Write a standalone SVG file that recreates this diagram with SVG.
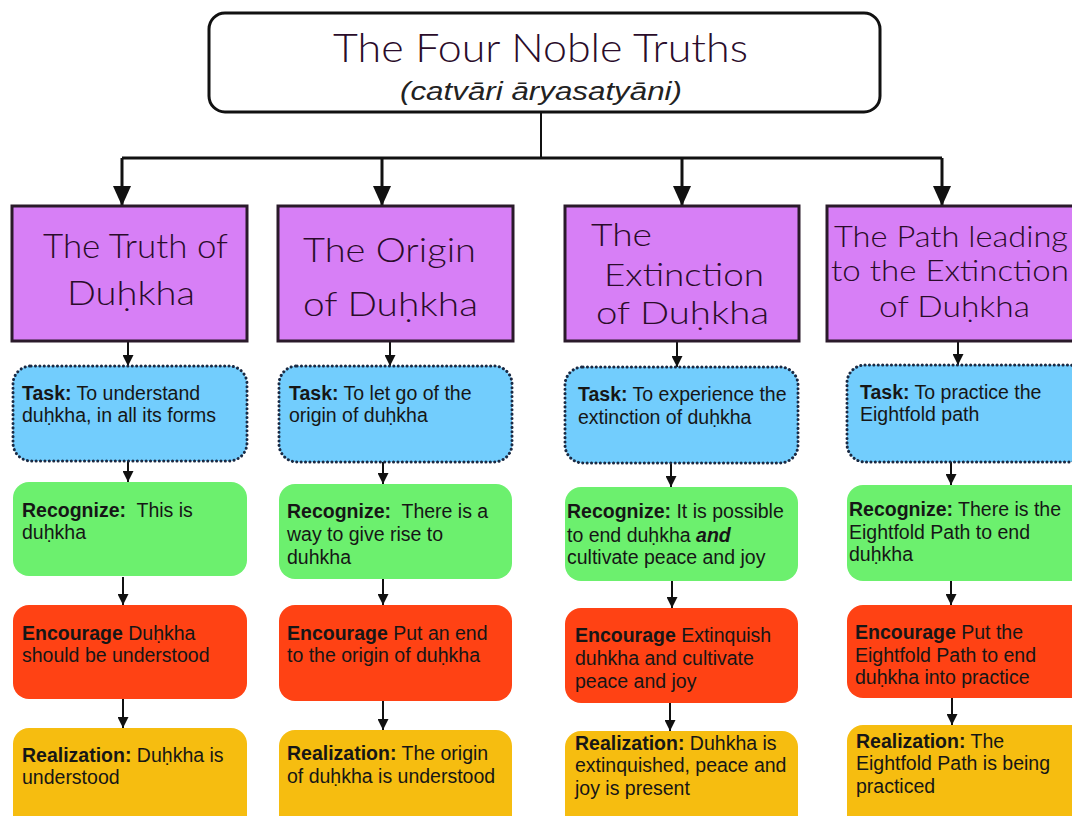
<svg xmlns="http://www.w3.org/2000/svg" width="1072" height="816" viewBox="0 0 1072 816">
<defs>
<style>
.t{font-family:"Liberation Sans",Arial,Helvetica,sans-serif;font-size:19.5px;fill:#161616}
.b{font-weight:bold}
.cal{font-family:"Lato","Open Sans","Noto Sans",sans-serif;font-weight:300;fill:#2a0c2a}
.title{fill:#fff;stroke:#111;stroke-width:3}
.purple{fill:#d77ff6;stroke:#2a1a2a;stroke-width:3}
.task{fill:#72cdfd;stroke:#1a2a44;stroke-width:3;stroke-dasharray:0.1 4.3;stroke-linecap:round}
.rec{fill:#6cf06e}
.enc{fill:#ff4214}
.real{fill:#f6bd10}
.big{fill:none;stroke:#111;stroke-width:3}
.sm{fill:none;stroke:#111;stroke-width:2}
</style>
<marker id="bh" markerUnits="userSpaceOnUse" markerWidth="20" markerHeight="20" refX="20" refY="9" orient="auto" viewBox="0 0 20 18">
<path d="M0,0 L20,9 L0,18 z" fill="#111"/>
</marker>
<marker id="sh" markerUnits="userSpaceOnUse" markerWidth="11" markerHeight="11" refX="11" refY="5.5" orient="auto" viewBox="0 0 11 11">
<path d="M0,0 L11,5.5 L0,11 z" fill="#111"/>
</marker>
</defs>
<rect width="1072" height="816" fill="#fff"/>

<g id="connectors">
<path class="sm" d="M541,112 V158"/>
<path class="big" d="M122,158 H942"/>
<path class="big" d="M122,158 V206" marker-end="url(#bh)"/>
<path class="big" d="M382,158 V206" marker-end="url(#bh)"/>
<path class="big" d="M682,158 V206" marker-end="url(#bh)"/>
<path class="big" d="M942,158 V206" marker-end="url(#bh)"/>
<path class="sm" d="M128,341 V366" marker-end="url(#sh)"/>
<path class="sm" d="M128,461 V482" marker-end="url(#sh)"/>
<path class="sm" d="M123,577 V605" marker-end="url(#sh)"/>
<path class="sm" d="M123,699 V728" marker-end="url(#sh)"/>
<path class="sm" d="M390,341 V366" marker-end="url(#sh)"/>
<path class="sm" d="M383,462 V484" marker-end="url(#sh)"/>
<path class="sm" d="M383,579 V605" marker-end="url(#sh)"/>
<path class="sm" d="M383,701 V730" marker-end="url(#sh)"/>
<path class="sm" d="M677,341 V367" marker-end="url(#sh)"/>
<path class="sm" d="M671,463 V487" marker-end="url(#sh)"/>
<path class="sm" d="M672,581 V608" marker-end="url(#sh)"/>
<path class="sm" d="M670,703 V731" marker-end="url(#sh)"/>
<path class="sm" d="M958,341 V365" marker-end="url(#sh)"/>
<path class="sm" d="M951,462 V485" marker-end="url(#sh)"/>
<path class="sm" d="M951,581 V605" marker-end="url(#sh)"/>
<path class="sm" d="M952,698 V725" marker-end="url(#sh)"/>
</g>

<g id="title">
<rect class="title" x="209" y="13" width="671" height="99" rx="16"/>
<text class="cal" x="333" y="62" font-size="40" textLength="415" lengthAdjust="spacingAndGlyphs">The Four Noble Truths</text>
<text class="t" x="400" y="100" font-style="italic" textLength="282" lengthAdjust="spacingAndGlyphs" style="font-size:26px;fill:#222">(catvāri āryasatyāni)</text>
</g>

<g id="truth1">
<rect class="purple" x="12" y="206" width="235" height="135"/>
<text class="cal" x="43" y="258" font-size="34" textLength="185" lengthAdjust="spacingAndGlyphs">The Truth of</text>
<text class="cal" x="67" y="305" font-size="34" textLength="128" lengthAdjust="spacingAndGlyphs">Duḥkha</text>
</g>
<g id="truth2">
<rect class="purple" x="278" y="206" width="235" height="135"/>
<text class="cal" x="303" y="262" font-size="34" textLength="173" lengthAdjust="spacingAndGlyphs">The Origin</text>
<text class="cal" x="303" y="316" font-size="34" textLength="175" lengthAdjust="spacingAndGlyphs">of Duḥkha</text>
</g>
<g id="truth3">
<rect class="purple" x="565" y="206" width="234" height="135"/>
<text class="cal" x="591" y="246" font-size="32" textLength="61" lengthAdjust="spacingAndGlyphs">The</text>
<text class="cal" x="604" y="286" font-size="32" textLength="160" lengthAdjust="spacingAndGlyphs">Extinction</text>
<text class="cal" x="596" y="324" font-size="32" textLength="173" lengthAdjust="spacingAndGlyphs">of Duḥkha</text>
</g>
<g id="truth4">
<rect class="purple" x="827" y="206" width="260" height="135"/>
<text class="cal" x="834" y="247" font-size="30" textLength="234" lengthAdjust="spacingAndGlyphs">The Path leading</text>
<text class="cal" x="831" y="281" font-size="30" textLength="238" lengthAdjust="spacingAndGlyphs">to the Extinction</text>
<text class="cal" x="879" y="317" font-size="30" textLength="151" lengthAdjust="spacingAndGlyphs">of Duḥkha</text>
</g>

<g id="task1">
<rect class="task" x="13" y="366" width="234" height="95" rx="18"/>
<text class="t" x="22" y="400"><tspan class="b">Task:</tspan> To understand</text>
<text class="t" x="22" y="422">duḥkha, in all its forms</text>
</g>
<g id="task2">
<rect class="task" x="279" y="366" width="233" height="96" rx="18"/>
<text class="t" x="289" y="400"><tspan class="b">Task:</tspan> To let go of the</text>
<text class="t" x="289" y="422">origin of duḥkha</text>
</g>
<g id="task3">
<rect class="task" x="565" y="367" width="233" height="96" rx="18"/>
<text class="t" x="578" y="401"><tspan class="b">Task:</tspan> To experience the</text>
<text class="t" x="578" y="424">extinction of duḥkha</text>
</g>
<g id="task4">
<rect class="task" x="847" y="365" width="240" height="97" rx="18"/>
<text class="t" x="860" y="399"><tspan class="b">Task:</tspan> To practice the</text>
<text class="t" x="860" y="421">Eightfold path</text>
</g>

<g id="rec1">
<rect class="rec" x="13" y="482" width="234" height="94" rx="16"/>
<text class="t" x="22" y="517" xml:space="preserve"><tspan class="b">Recognize:</tspan>  This is</text>
<text class="t" x="22" y="539">duḥkha</text>
</g>
<g id="rec2">
<rect class="rec" x="279" y="484" width="233" height="95" rx="16"/>
<text class="t" x="287" y="518" xml:space="preserve"><tspan class="b">Recognize:</tspan>  There is a</text>
<text class="t" x="287" y="541">way to give rise to</text>
<text class="t" x="287" y="564">duhkha</text>
</g>
<g id="rec3">
<rect class="rec" x="565" y="487" width="233" height="94" rx="16"/>
<text class="t" x="567" y="518"><tspan class="b">Recognize:</tspan> It is possible</text>
<text class="t" x="567" y="542">to end duḥkha <tspan class="b" font-style="italic">and</tspan></text>
<text class="t" x="567" y="564">cultivate peace and joy</text>
</g>
<g id="rec4">
<rect class="rec" x="847" y="485" width="240" height="96" rx="16"/>
<text class="t" x="849" y="516"><tspan class="b">Recognize:</tspan> There is the</text>
<text class="t" x="849" y="539">Eightfold Path to end</text>
<text class="t" x="849" y="561">duḥkha</text>
</g>

<g id="enc1">
<rect class="enc" x="13" y="605" width="234" height="94" rx="16"/>
<text class="t" x="22" y="640"><tspan class="b">Encourage</tspan> Duḥkha</text>
<text class="t" x="22" y="662">should be understood</text>
</g>
<g id="enc2">
<rect class="enc" x="279" y="605" width="233" height="96" rx="16"/>
<text class="t" x="287" y="640"><tspan class="b">Encourage</tspan> Put an end</text>
<text class="t" x="287" y="662">to the origin of duḥkha</text>
</g>
<g id="enc3">
<rect class="enc" x="565" y="608" width="233" height="95" rx="16"/>
<text class="t" x="575" y="642"><tspan class="b">Encourage</tspan> Extinquish</text>
<text class="t" x="575" y="665">duhkha and cultivate</text>
<text class="t" x="575" y="688">peace and joy</text>
</g>
<g id="enc4">
<rect class="enc" x="847" y="605" width="240" height="93" rx="16"/>
<text class="t" x="855" y="639"><tspan class="b">Encourage</tspan> Put the</text>
<text class="t" x="855" y="662">Eightfold Path to end</text>
<text class="t" x="855" y="684">duḥkha into practice</text>
</g>

<g id="real1">
<rect class="real" x="13" y="728" width="234" height="110" rx="16"/>
<text class="t" x="22" y="762"><tspan class="b">Realization:</tspan> Duḥkha is</text>
<text class="t" x="22" y="784">understood</text>
</g>
<g id="real2">
<rect class="real" x="279" y="730" width="233" height="110" rx="16"/>
<text class="t" x="287" y="760"><tspan class="b">Realization:</tspan> The origin</text>
<text class="t" x="287" y="783">of duḥkha is understood</text>
</g>
<g id="real3">
<rect class="real" x="565" y="731" width="233" height="110" rx="16"/>
<text class="t" x="575" y="750"><tspan class="b">Realization:</tspan> Duhkha is</text>
<text class="t" x="575" y="772">extinquished, peace and</text>
<text class="t" x="575" y="795">joy is present</text>
</g>
<g id="real4">
<rect class="real" x="847" y="725" width="240" height="115" rx="16"/>
<text class="t" x="856" y="748"><tspan class="b">Realization:</tspan> The</text>
<text class="t" x="856" y="770">Eightfold Path is being</text>
<text class="t" x="856" y="793">practiced</text>
</g>
</svg>
